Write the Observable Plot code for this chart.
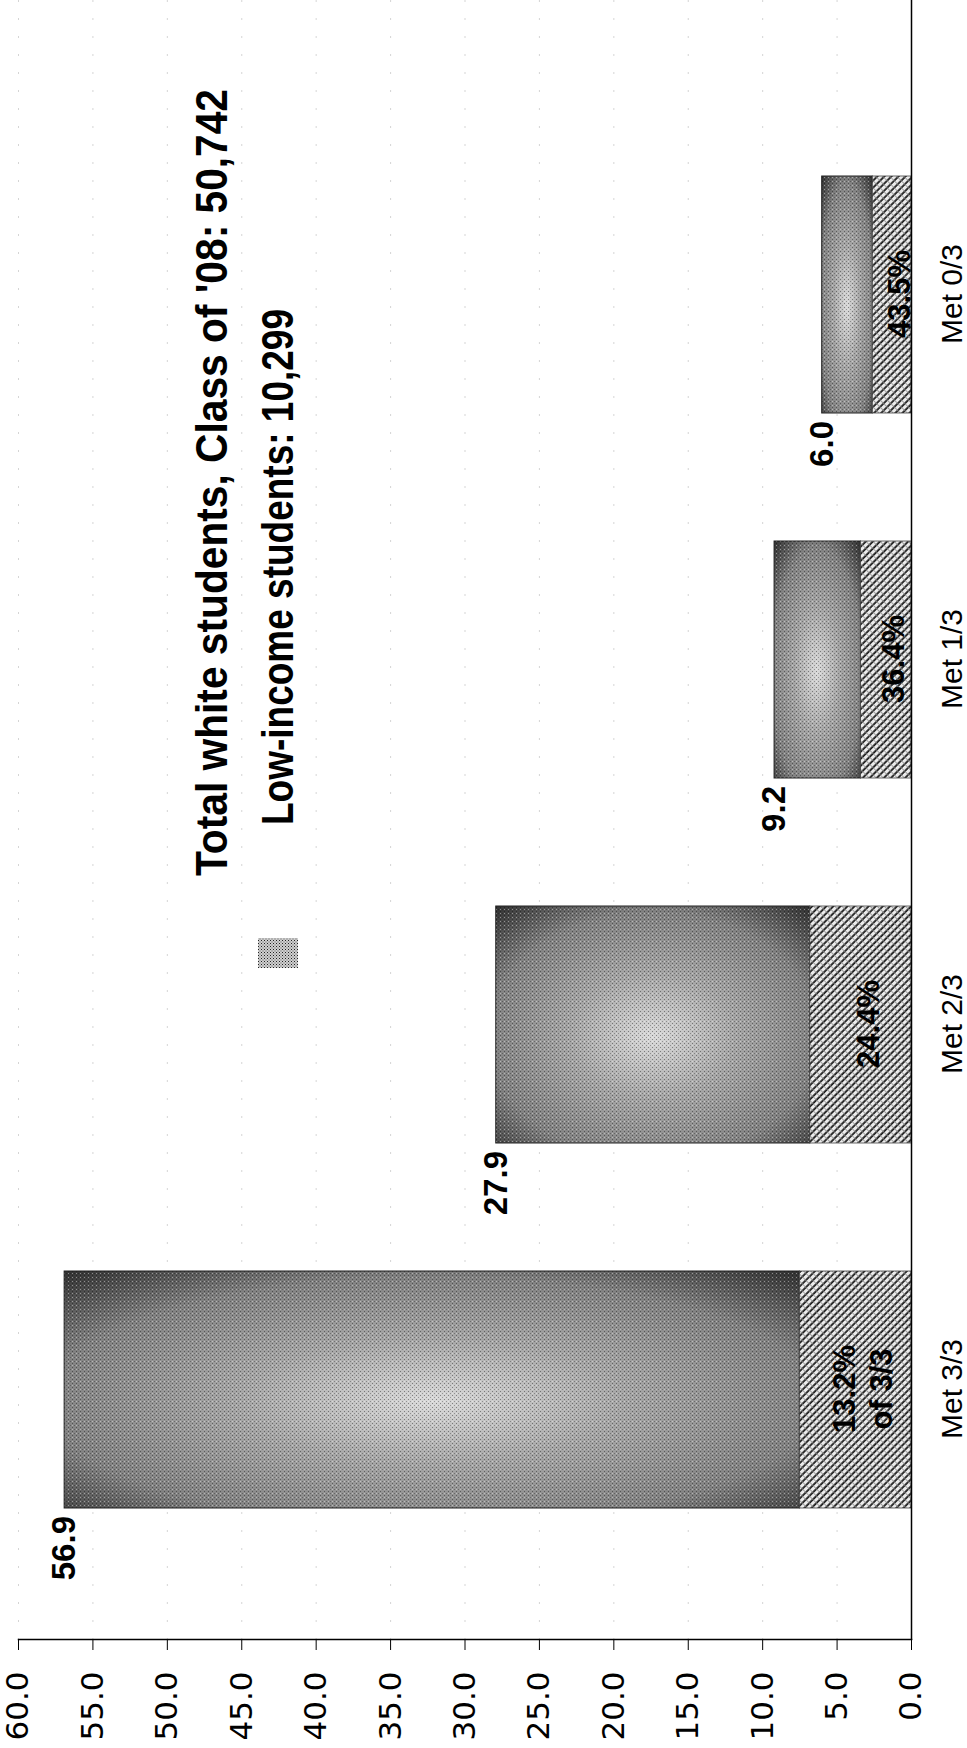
<!DOCTYPE html>
<html><head><meta charset="utf-8">
<script src="https://cdn.jsdelivr.net/npm/d3@7"></script>
<script src="https://cdn.jsdelivr.net/npm/@observablehq/plot@0.6"></script>
<style>
html,body{margin:0;padding:0;background:#fff;overflow:hidden;width:967px;height:1748px;}
#wrap{position:absolute;left:0;top:0;width:1748px;height:967px;transform-origin:0 0;transform:translateY(1748px) rotate(-90deg);}
#legend{position:absolute;left:0;top:0;}
#chart{position:absolute;left:0;top:0;}
</style></head><body>
<div id="wrap"><div id="chart"></div><svg id="legend" width="1748" height="967"></svg></div>
<script>
const categories = ["Met 3/3", "Met 2/3", "Met 1/3", "Met 0/3"];
const totals = [56.9, 27.9, 9.2, 6.0];
const lowIncome = [7.5, 6.8, 3.4, 2.6];
const pctLabels = ["13.2%\nof 3/3", "24.4%", "36.4%", "43.5%"];
const yTicks = [0, 5, 10, 15, 20, 25, 30, 35, 40, 45, 50, 55, 60];
const legendLabels = ["Total white students, Class of '08: 50,742", "Low-income students: 10,299"];

const data = categories.map((c, i) => ({cat: c, total: totals[i], low: lowIncome[i], pct: pctLabels[i]}));

const chart = Plot.plot({
  width: 1748, height: 967,
  marginLeft: 108, marginRight: 0, marginTop: 18, marginBottom: 56,
  style: {background: "white", fontFamily: "'Liberation Sans', Arial, sans-serif", color: "#000"},
  x: {domain: categories, paddingInner: 0.35, paddingOuter: 0.42, align: 0.43, label: null},
  y: {domain: [0, 60], label: null},
  marks: [
    Plot.gridY(yTicks.slice(1), {stroke: "#888", strokeOpacity: 0.35, strokeDasharray: "2,16"}),
    Plot.barY(data, {x: "cat", y1: "low", y2: "total", fill: "url(#barGrad)"}),
    Plot.barY(data, {x: "cat", y1: "low", y2: "total", fill: "url(#dither)", stroke: "#222", strokeWidth: 1}),
    Plot.barY(data, {x: "cat", y1: 0, y2: "low", fill: "url(#hatch)", stroke: "#444", strokeWidth: 0.8}),
    Plot.text(data, {x: "cat", y: "total", text: d => d.total.toFixed(1), textAnchor: "end", dx: -127,
      fontSize: 33, fontWeight: "bold"}),
    Plot.text(data, {x: "cat", y: d => d.low / 2, text: "pct", fontSize: 31, fontWeight: "bold",
      lineHeight: 1.2, dy: 6}),
    Plot.axisY({ticks: yTicks, tickFormat: d => d.toFixed(1), tickSize: 10, tickPadding: 22,
      fontSize: 31, fontFamily: "'DejaVu Sans', sans-serif", label: null}),
    Plot.axisX({tickSize: 0, tickPadding: 29, fontSize: 30, label: null}),
    Plot.ruleY([0], {stroke: "#000", strokeWidth: 1.5}),
    Plot.frame({anchor: "left", stroke: "#000", strokeWidth: 1.5})
  ]
});
document.getElementById("chart").appendChild(chart);

d3.select(chart).insert("defs", ":first-child").html(`
  <radialGradient id="barGrad" cx="0.45" cy="0.5" r="0.75">
    <stop offset="0" stop-color="#dadada"/>
    <stop offset="0.35" stop-color="#a6a6a6"/>
    <stop offset="0.7" stop-color="#828282"/>
    <stop offset="1" stop-color="#2e2e2e"/>
  </radialGradient>
  <pattern id="dither" width="4" height="4" patternUnits="userSpaceOnUse">
    <rect x="0" y="0" width="1" height="1" fill="#000" fill-opacity="0.4"/>
    <rect x="2" y="2" width="1" height="1" fill="#000" fill-opacity="0.3"/>
    <rect x="2" y="0" width="1" height="1" fill="#fff" fill-opacity="0.4"/>
  </pattern>
  <pattern id="hatch" width="5" height="5" patternUnits="userSpaceOnUse" patternTransform="rotate(-45)">
    <rect width="5" height="5" fill="#ececec"/>
    <rect width="1.8" height="5" fill="#1a1a1a"/>
    <rect y="0" width="5" height="0.8" fill="#8a8a8a"/>
  </pattern>
  <pattern id="swatch" width="3" height="3" patternUnits="userSpaceOnUse">
    <rect width="3" height="3" fill="#d0d0d0"/>
    <rect width="1" height="1" fill="#222"/>
    <rect x="1.5" y="1.5" width="1" height="1" fill="#555"/>
  </pattern>
`);

const leg = d3.select("#legend");
const lf = "'Liberation Sans Narrow', 'Liberation Sans', Arial, sans-serif";
leg.append("text").attr("x", 872).attr("y", 227).attr("font-family", lf).attr("font-weight", "bold")
  .attr("font-size", 45).attr("textLength", 787).attr("lengthAdjust", "spacingAndGlyphs").text(legendLabels[0]);
leg.append("rect").attr("x", 780).attr("y", 258).attr("width", 30).attr("height", 40)
  .attr("fill", "url(#swatch)");
leg.append("text").attr("x", 923).attr("y", 293).attr("font-family", lf).attr("font-weight", "bold")
  .attr("font-size", 45).attr("textLength", 516).attr("lengthAdjust", "spacingAndGlyphs").text(legendLabels[1]);
</script>
</body></html>
